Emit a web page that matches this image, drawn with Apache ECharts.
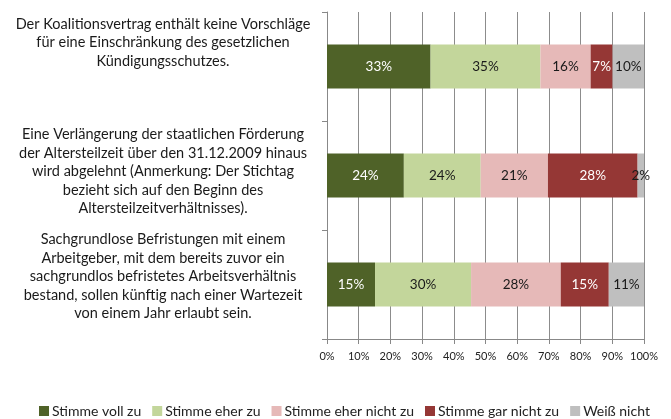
<!DOCTYPE html>
<html>
<head>
<meta charset="utf-8">
<script src="https://cdn.jsdelivr.net/npm/echarts@6/dist/echarts.min.js"></script>
<style>
  html, body { margin: 0; padding: 0; background: #fff; }
  #chart { width: 671px; height: 419px; }
</style>
</head>
<body>
<div id="chart"></div>
<script>
// Kategorien (von oben nach unten)
const categories = [
  'Der Koalitionsvertrag enthält keine Vorschläge\nfür eine Einschränkung des gesetzlichen\nKündigungsschutzes.',
  'Eine Verlängerung der staatlichen Förderung\nder Altersteilzeit über den 31.12.2009 hinaus\nwird abgelehnt (Anmerkung: Der Stichtag\nbezieht sich auf den Beginn des\nAltersteilzeitverhältnisses).',
  'Sachgrundlose Befristungen mit einem\nArbeitgeber, mit dem bereits zuvor ein\nsachgrundlos befristetes Arbeitsverhältnis\nbestand, sollen künftig nach einer Wartezeit\nvon einem Jahr erlaubt sein.'
];
const seriesNames = ['Stimme voll zu', 'Stimme eher zu', 'Stimme eher nicht zu', 'Stimme gar nicht zu', 'Weiß nicht'];
// Werte in Prozent, wie beschriftet
const vollZu = [33, 24, 15];
const eherZu = [35, 24, 30];
const eherNichtZu = [16, 21, 28];
const garNichtZu = [7, 28, 15];
const weissNicht = [10, 2, 11];
const xTicks = [0, 10, 20, 30, 40, 50, 60, 70, 80, 90, 100];

const colors = ['#4F6228', '#C3D69B', '#E6B9B8', '#953735', '#BFBFBF'];
const labelColors = ['#ffffff', '#1a1a1a', '#1a1a1a', '#ffffff', '#1a1a1a'];
const allValues = [vollZu, eherZu, eherNichtZu, garNichtZu, weissNicht];

// 100%-gestapelt: Anteile je Kategorie
const totals = categories.map((c, i) => allValues.reduce((s, arr) => s + arr[i], 0));

const chart = echarts.init(document.getElementById('chart'));
chart.setOption({
  animation: false,
  textStyle: { fontFamily: 'Lato' },
  color: colors,
  grid: { left: 327, right: 27, top: 12, bottom: 80 },
  legend: {
    top: 399,
    left: 34,
    itemWidth: 10,
    itemHeight: 10,
    itemGap: 11,
    icon: 'rect',
    textStyle: { fontSize: 14, color: '#222', padding: [0, 0, 0, -2] },
    data: seriesNames
  },
  xAxis: {
    type: 'value',
    min: 0,
    max: 100,
    interval: 10,
    axisLine: { show: true, lineStyle: { color: '#888' } },
    axisTick: { show: true, length: 5, lineStyle: { color: '#888' } },
    splitLine: { show: true, lineStyle: { color: '#8c8c8c', width: 1 } },
    axisLabel: {
      color: '#222',
      fontSize: 11,
      margin: 12,
      formatter: v => xTicks.indexOf(v) >= 0 ? v + '%' : ''
    }
  },
  yAxis: {
    type: 'category',
    inverse: true,
    data: categories,
    axisLine: { show: true, lineStyle: { color: '#888' } },
    axisTick: { show: true, length: 5, lineStyle: { color: '#888' } },
    axisLabel: {
      margin: 164,
      align: 'center',
      formatter: (value, index) =>
        value.split('\n').map(l => '{t|' + l + '}').join('\n') + '\n{s' + index + '| }',
      rich: {
        t: { fontSize: 14.5, lineHeight: 18.5, color: '#1a1a1a', align: 'center' },
        s0: { fontSize: 1, lineHeight: 48 },
        s1: { fontSize: 1, lineHeight: 8 },
        s2: { fontSize: 1, lineHeight: 16 }
      }
    }
  },
  series: seriesNames.map((name, k) => ({
    name: name,
    type: 'bar',
    stack: 'total',
    barWidth: 44,
    data: allValues[k].map((v, i) => ({ value: v / totals[i] * 100, raw: v })),
    label: {
      show: true,
      position: 'inside',
      color: labelColors[k],
      fontSize: 13.5,
      formatter: p => p.data.raw + '%'
    }
  }))
});
</script>
</body>
</html>
